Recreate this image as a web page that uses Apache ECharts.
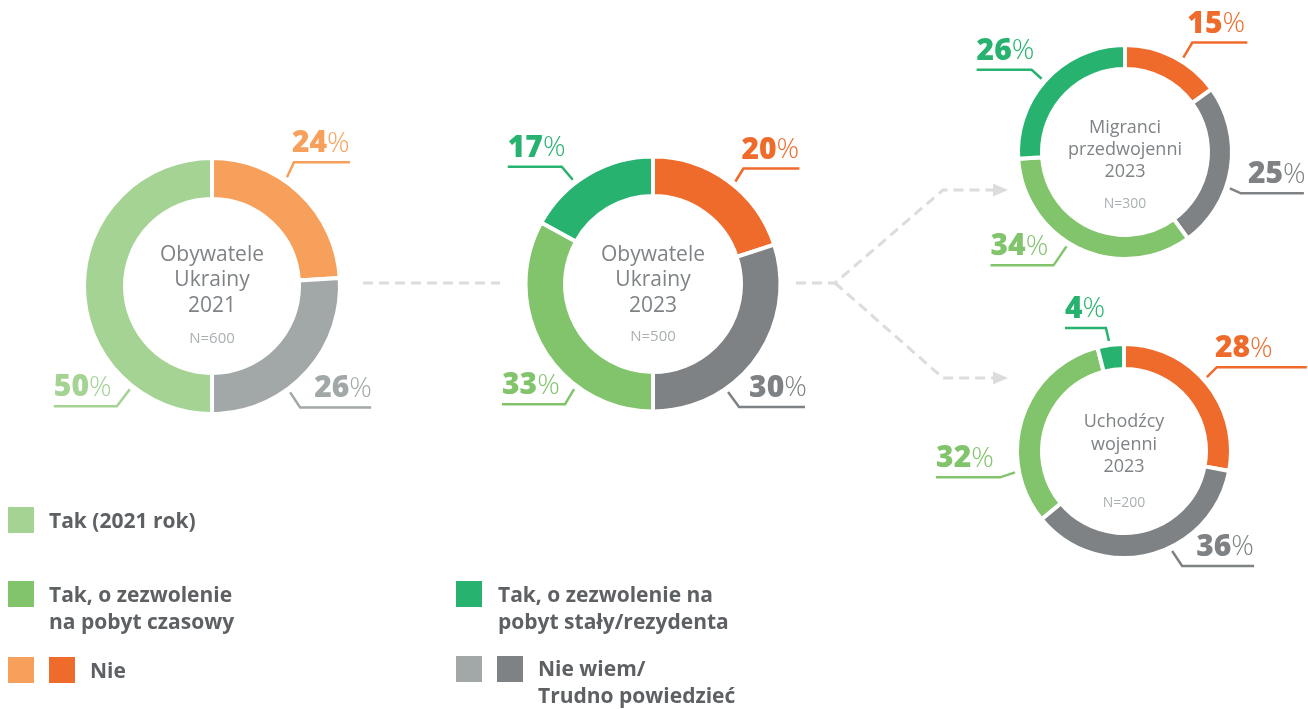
<!DOCTYPE html>
<html>
<head>
<meta charset="utf-8">
<script src="https://cdn.jsdelivr.net/npm/echarts@6/dist/echarts.min.js"></script>
<style>
  html, body { margin: 0; padding: 0; background: #ffffff; }
  #chart { width: 1308px; height: 709px; }
</style>
</head>
<body>
<div id="chart"></div>
<script>
// ---- data ----
const names2021 = ['Nie', 'Nie wiem/Trudno powiedzieć', 'Tak (2021 rok)'];
const names2023 = ['Nie', 'Nie wiem/Trudno powiedzieć', 'Tak, o zezwolenie na pobyt czasowy', 'Tak, o zezwolenie na pobyt stały/rezydenta'];
const obywatele2021 = [24, 26, 50];
const obywatele2023 = [20, 30, 33, 17];
const migranci2023 = [15, 25, 34, 26];
const uchodzcy2023 = [28, 36, 32, 4];
const groupTitles = ['Obywatele\nUkrainy\n2021', 'Obywatele\nUkrainy\n2023', 'Migranci\nprzedwojenni\n2023', 'Uchodźcy\nwojenni\n2023'];
const sampleSizes = ['N=600', 'N=500', 'N=300', 'N=200'];
const legendTexts = ['Tak (2021 rok)', 'Tak, o zezwolenie\nna pobyt czasowy', 'Nie', 'Tak, o zezwolenie na\npobyt stały/rezydenta', 'Nie wiem/\nTrudno powiedzieć'];

// ---- colours ----
const colors2021 = ['#f6a05b', '#a2a8a8', '#a4d394'];
const colors2023 = ['#ef6b2c', '#7e8284', '#82c46c', '#27b36f'];
const centerTextColor = '#7f8386';
const sampleColor = '#aab0b2';
const legendTextColor = '#5e6164';
const connectorColor = '#dcdcdc';
const FONT = '"Open Sans", "Noto Sans", sans-serif';

// ---- layout of the four rings ----
// labels: [anchor angle (deg, clockwise from 12 o'clock), leader dx, leader dy, underline length, text offset]
const rings = [
  { values: obywatele2021, names: names2021, colors: colors2021,
    center: [212, 286], radius: [89, 126], textY: 280.5, nY: 339, font: 21, lh: 25.5, nFont: 15,
    labels: [[34.6, 7, -15, 56, -2], [143.7, 10, 15, 71, 14], [218.5, -13, 17, -63, 0]] },
  { values: obywatele2023, names: names2023, colors: colors2023,
    center: [653, 284], radius: [90, 125.5], textY: 280.5, nY: 337, font: 21, lh: 25.5, nFont: 15,
    labels: [[38.8, 8, -13, 56, -2], [145.2, 11, 15, 66, 10], [216.9, -9, 15, -63, 0], [322.4, -11, -13, -54, 0]] },
  { values: migranci2023, names: names2023, colors: colors2023,
    center: [1125, 152], radius: [85, 105], textY: 150, nY: 204.5, font: 18, lh: 22, nFont: 14,
    labels: [[31.7, 9, -15, 55, -5], [109.1, 11, 5, 63, 7], [211.8, -13, 19, -63, 0], [311.3, -10, -9, -55, 0]] },
  { values: uchodzcy2023, names: names2023, colors: colors2023,
    center: [1124, 451], radius: [84, 105], textY: 444.5, nY: 503.5, font: 18, lh: 22.5, nFont: 14,
    labels: [[48.3, 10, -10, 90, -2], [154.3, 10, 15, 72, 14], [258.9, -15, 5, -64, 0], [352.2, -3, -13, -41, 0]] }
];

const GAP = 4; // white separation between slices

function leaderLayout(ring) {
  return function (params) {
    const [a, sx, sy, len, tx] = ring.labels[params.dataIndex];
    const r = ring.radius[1] + 6;
    const rad = a * Math.PI / 180;
    const x0 = ring.center[0] + r * Math.sin(rad);
    const y0 = ring.center[1] - r * Math.cos(rad);
    const x1 = x0 + sx, y1 = y0 + sy;
    const x2 = x1 + len;
    return {
      x: len > 0 ? x1 + tx : x2,
      y: y1 - 1.5,
      align: 'left',
      verticalAlign: 'bottom',
      labelLinePoints: [[x0, y0], [x1, y1], [x2, y1]]
    };
  };
}

const series = rings.map(function (ring) {
  return {
    type: 'pie',
    center: ring.center,
    radius: [ring.radius[0] - GAP / 2, ring.radius[1] + GAP / 2],
    startAngle: 90,
    clockwise: true,
    avoidLabelOverlap: false,
    silent: true,
    emphasis: { disabled: true },
    itemStyle: { borderColor: '#ffffff', borderWidth: GAP },
    label: {
      show: true,
      position: 'outside',
      overflow: 'none',
      formatter: function (p) { return '{v|' + p.value + '}{p|%}'; },
      rich: {
        v: { fontFamily: FONT, fontSize: 30, fontWeight: 800, lineHeight: 34 },
        p: { fontFamily: FONT, fontSize: 28, fontWeight: 300, lineHeight: 34 }
      }
    },
    labelLine: { show: true, length: 15, length2: 10, smooth: false, lineStyle: { width: 2.5 } },
    labelLayout: leaderLayout(ring),
    data: ring.values.map(function (v, i) {
      return {
        value: v,
        name: ring.names[i],
        itemStyle: { color: ring.colors[i] },
        label: { color: ring.colors[i] },
        labelLine: { lineStyle: { color: ring.colors[i] } }
      };
    })
  };
});

// ---- centre captions ----
const graphics = [];
rings.forEach(function (ring, i) {
  graphics.push({
    type: 'text', x: ring.center[0], y: ring.textY, silent: true,
    style: { text: groupTitles[i], fill: centerTextColor, font: ring.font + 'px ' + FONT,
             lineHeight: ring.lh, align: 'center', verticalAlign: 'middle' }
  });
  graphics.push({
    type: 'text', x: ring.center[0], y: ring.nY, silent: true,
    style: { text: sampleSizes[i], fill: sampleColor, font: ring.nFont + 'px ' + FONT,
             align: 'center', verticalAlign: 'middle' }
  });
});

// ---- dashed connectors ----
const dash = { stroke: connectorColor, lineWidth: 3, lineDash: [10, 6], fill: null };
graphics.push({ type: 'polyline', silent: true, shape: { points: [[363, 283], [500, 283]] }, style: dash });
graphics.push({ type: 'polyline', silent: true, shape: { points: [[796, 283], [835, 283], [943, 190], [993, 190]] }, style: dash });
graphics.push({ type: 'polyline', silent: true, shape: { points: [[835, 283], [943, 378], [993, 378]] }, style: dash });
graphics.push({ type: 'polygon', silent: true, shape: { points: [[993, 183.5], [1008, 190], [993, 196.5]] }, style: { fill: connectorColor } });
graphics.push({ type: 'polygon', silent: true, shape: { points: [[993, 371.5], [1008, 378], [993, 384.5]] }, style: { fill: connectorColor } });

// ---- legend ----
const SW = 26;
function swatch(x, y, color) {
  graphics.push({ type: 'rect', silent: true, shape: { x: x, y: y, width: SW, height: SW }, style: { fill: color } });
}
function legendText(x, y, text) {
  graphics.push({ type: 'text', silent: true, x: x, y: y,
    style: { text: text, fill: legendTextColor, font: 'bold 21px ' + FONT, lineHeight: 27,
             align: 'left', verticalAlign: 'top' } });
}
swatch(8, 507, colors2021[2]);           legendText(49, 509, legendTexts[0]);
swatch(8, 581, colors2023[2]);           legendText(49, 583, legendTexts[1]);
swatch(8, 657, colors2021[0]); swatch(49, 657, colors2023[0]); legendText(90, 659, legendTexts[2]);
swatch(456, 581, colors2023[3]);         legendText(498, 583, legendTexts[3]);
swatch(456, 656, colors2021[1]); swatch(497, 656, colors2023[1]); legendText(538, 657, legendTexts[4]);

const chart = echarts.init(document.getElementById('chart'), null, { renderer: 'canvas' });
chart.setOption({
  backgroundColor: '#ffffff',
  animation: false,
  series: series,
  graphic: { elements: graphics }
});
</script>
</body>
</html>
